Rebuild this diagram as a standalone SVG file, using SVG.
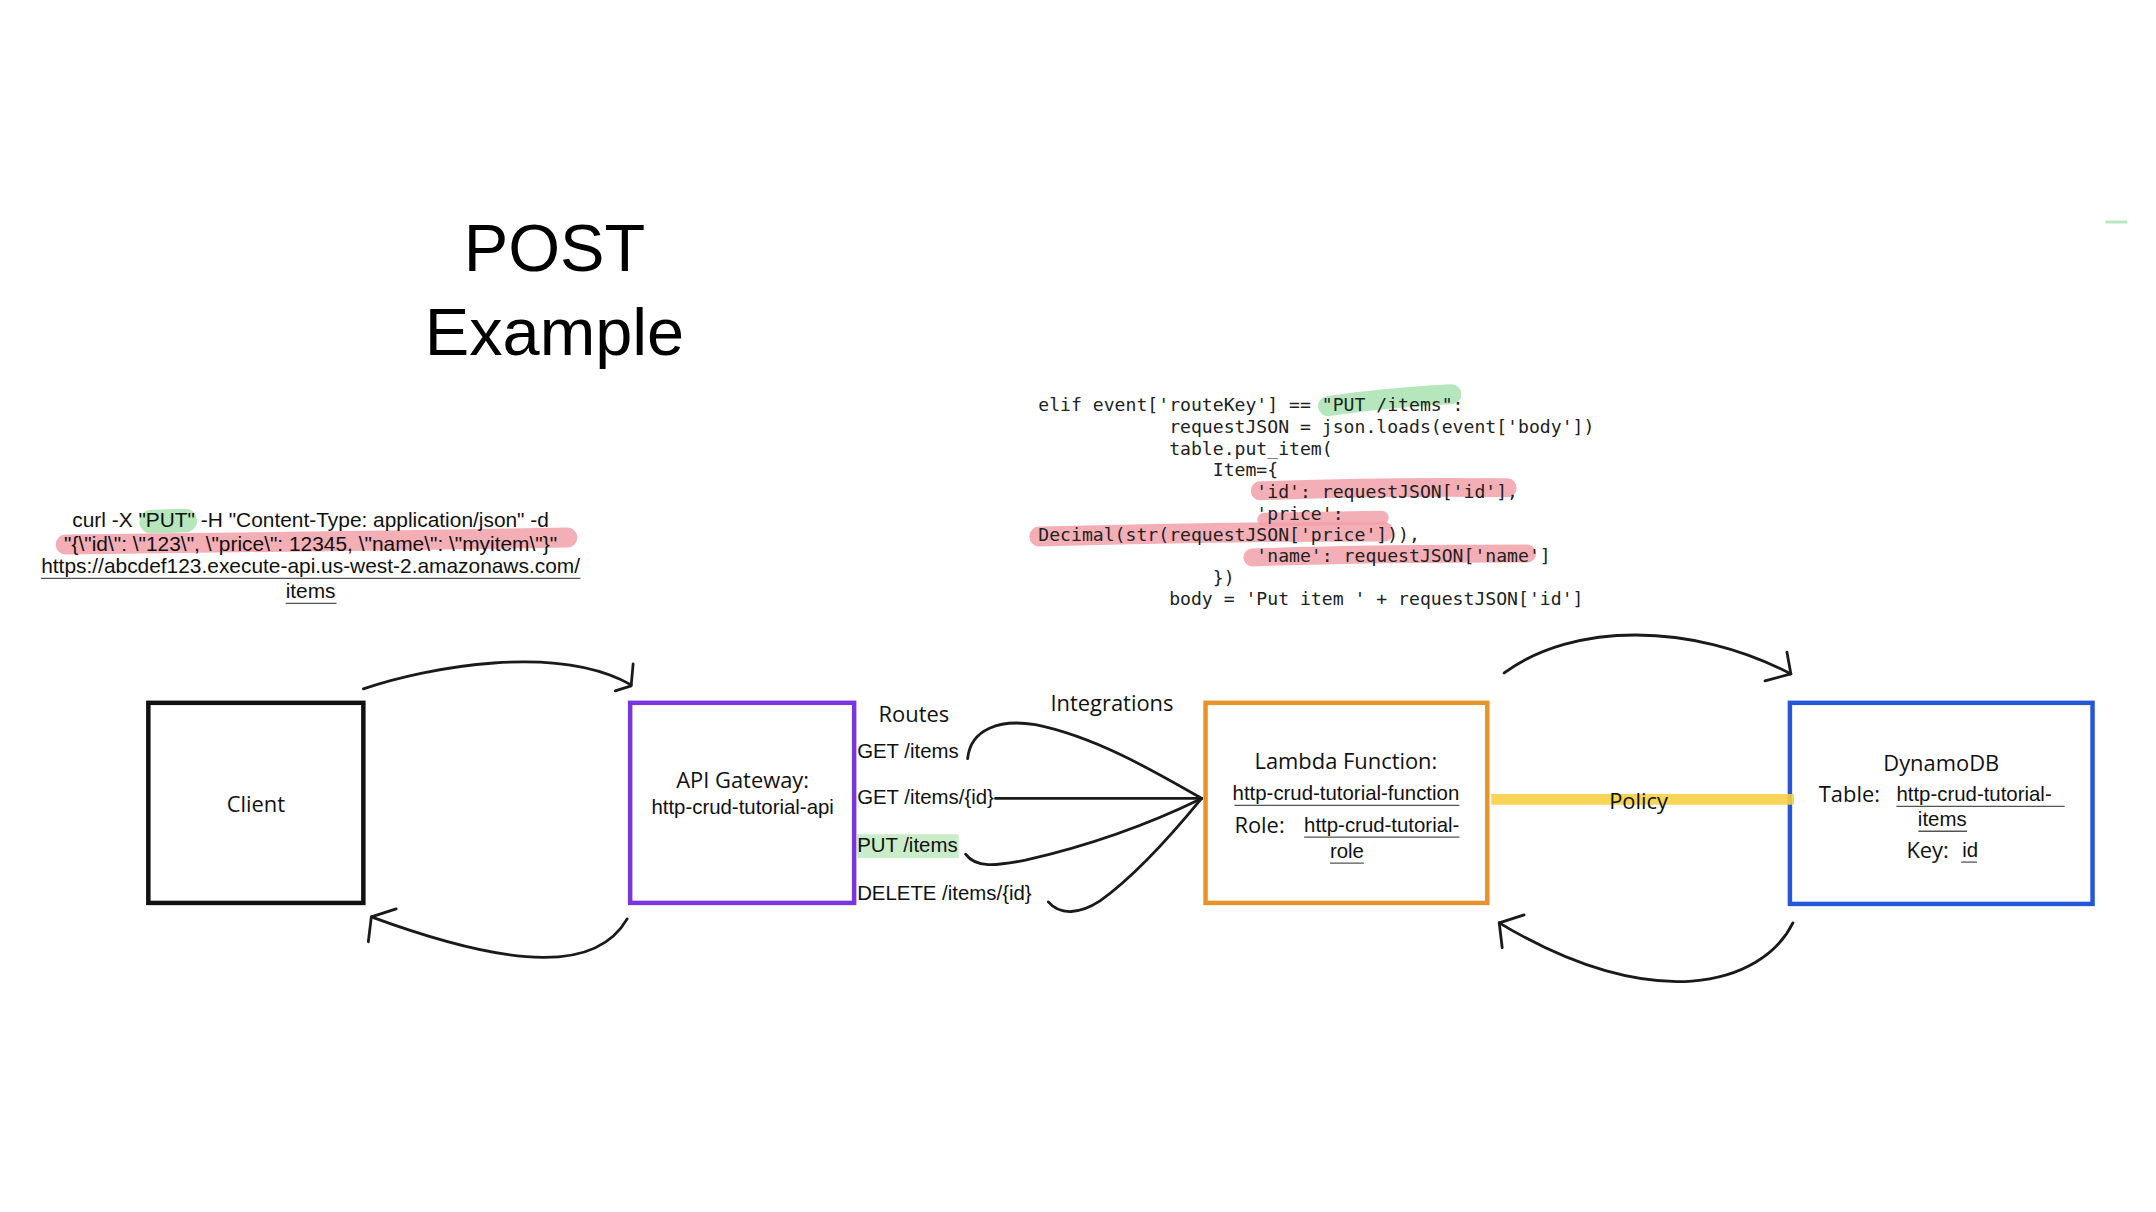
<svg xmlns="http://www.w3.org/2000/svg" width="2156" height="1212" viewBox="0 0 2156 1212">
<style>
.hand{font-family:"Open Sans","DejaVu Sans",sans-serif;font-size:22px;fill:#111}
.sans{font-family:"Liberation Sans",Arial,sans-serif;font-size:20.5px;fill:#111}
.curl{font-family:"Liberation Sans",Arial,sans-serif;font-size:21px;fill:#111}
.mono{font-family:"DejaVu Sans Mono","Liberation Mono",monospace;font-size:18.2px;fill:#222;white-space:pre}
.title{font-family:"Liberation Sans",Arial,sans-serif;font-size:67px;fill:#000}
.ul{stroke:#555;stroke-width:1.3}
.conn{fill:none;stroke:#1a1a1a;stroke-width:2.8;stroke-linecap:round;stroke-linejoin:round}
.hlg{fill:none;stroke:#a9e2b0;stroke-linecap:round;opacity:0.85}
.hlr{fill:none;stroke:#f2a0a8;stroke-linecap:round;opacity:0.85}
</style>
<rect width="2156" height="1212" fill="#fff"/>
<g transform="scale(0.9955)">

<g id="title">
<text class="title" x="557" y="272" text-anchor="middle">POST</text>
<text class="title" x="557" y="357" text-anchor="middle">Example</text>
</g>

<g id="curl">
<path class="hlg" d="M152,524 L186,523" stroke-width="24"/>
<path class="hlr" d="M66,547 C200,546 400,543 570,540" stroke-width="20"/>
<text class="curl" x="312" y="529" text-anchor="middle">curl -X "PUT" -H "Content-Type: application/json" -d</text>
<text class="curl" x="312" y="553" text-anchor="middle">"{\"id\": \"123\", \"price\": 12345, \"name\": \"myitem\"}"</text>
<text class="curl" x="312" y="576" text-anchor="middle">https://abcdef123.execute-api.us-west-2.amazonaws.com/</text>
<line class="ul" x1="41" y1="581" x2="583" y2="581"/>
<text class="curl" x="312" y="601" text-anchor="middle">items</text>
<line class="ul" x1="287" y1="606" x2="338" y2="606"/>
</g>

<g id="code">
<path class="hlg" d="M1334,408 C1372,402 1422,398 1458,396" stroke-width="20"/>
<path class="hlr" d="M1266,493 C1352,490 1442,489 1514,490" stroke-width="19"/>
<path class="hlr" d="M1270,522 L1388,520" stroke-width="14"/>
<path class="hlr" d="M1044,539 C1150,536 1280,534 1390,534" stroke-width="20"/>
<path class="hlr" d="M1258,560 C1342,557 1442,556 1534,556" stroke-width="18"/>
<text class="mono" x="1043" y="413">elif event['routeKey'] == "PUT /items":</text>
<text class="mono" x="1043" y="435">            requestJSON = json.loads(event['body'])</text>
<text class="mono" x="1043" y="457">            table.put_item(</text>
<text class="mono" x="1043" y="478">                Item={</text>
<text class="mono" x="1043" y="500">                    'id': requestJSON['id'],</text>
<text class="mono" x="1043" y="522">                    'price':</text>
<text class="mono" x="1043" y="543">Decimal(str(requestJSON['price'])),</text>
<text class="mono" x="1043" y="565">                    'name': requestJSON['name']</text>
<text class="mono" x="1043" y="587">                })</text>
<text class="mono" x="1043" y="608">            body = 'Put item ' + requestJSON['id']</text>
</g>

<g id="client">
<rect x="149" y="706" width="216" height="201" fill="none" stroke="#111" stroke-width="4.5"/>
<text class="hand" x="257" y="816" text-anchor="middle">Client</text>
</g>

<g id="api-gateway">
<rect x="633" y="706" width="225" height="201" fill="none" stroke="#7a35e0" stroke-width="4.5"/>
<text class="hand" x="746" y="792" text-anchor="middle">API Gateway:</text>
<text class="sans" x="746" y="818" text-anchor="middle">http-crud-tutorial-api</text>
</g>

<g id="routes">
<text class="hand" x="918" y="725" text-anchor="middle">Routes</text>
<text class="sans" x="861" y="761">GET /items</text>
<text class="sans" x="861" y="808">GET /items/{id}</text>
<rect x="861" y="838" width="102" height="24" fill="#c9ecc9"/>
<text class="sans" x="861" y="856" fill="#1d3d1d">PUT /items</text>
<text class="sans" x="861" y="904">DELETE /items/{id}</text>
</g>

<g id="integrations-label">
<text class="hand" x="1117" y="714" text-anchor="middle">Integrations</text>
</g>

<g id="lambda">
<rect x="1211" y="706" width="283" height="201" fill="none" stroke="#e8922a" stroke-width="4.5"/>
<text class="hand" x="1352" y="772" text-anchor="middle">Lambda Function:</text>
<text class="sans" x="1352" y="804" text-anchor="middle">http-crud-tutorial-function</text>
<line class="ul" x1="1240" y1="809" x2="1466" y2="809"/>
<text class="hand" x="1240" y="837">Role:</text>
<text class="sans" x="1310" y="836">http-crud-tutorial-</text>
<line class="ul" x1="1310" y1="841" x2="1466" y2="841"/>
<text class="sans" x="1353" y="862" text-anchor="middle">role</text>
<line class="ul" x1="1336" y1="867" x2="1370" y2="867"/>
</g>

<g id="dynamodb">
<rect x="1798" y="706" width="304" height="202" fill="none" stroke="#2456d8" stroke-width="4.5"/>
<text class="hand" x="1950" y="774" text-anchor="middle">DynamoDB</text>
<text class="hand" x="1827" y="806">Table:</text>
<text class="sans" x="1905" y="805">http-crud-tutorial-</text>
<line class="ul" x1="1905" y1="810" x2="2074" y2="810"/>
<text class="sans" x="1951" y="830" text-anchor="middle">items</text>
<line class="ul" x1="1927" y1="835" x2="1976" y2="835"/>
<text class="hand" x="1915" y="862">Key:</text>
<text class="sans" x="1971" y="861">id</text>
<line class="ul" x1="1970" y1="866" x2="1986" y2="866"/>
</g>

<g id="connectors">
<path d="M1498,803 L1802,803" stroke="#f7cf45" stroke-width="11" opacity="0.9" fill="none"/>
<text class="hand" x="1646" y="813" text-anchor="middle">Policy</text>

<path class="conn" d="M365,692 C430,670 560,646 634,688"/>
<path class="conn" d="M636,667 L634,689 L618,694"/>

<path class="conn" d="M630,923 C600,975 520,975 373,921"/>
<path class="conn" d="M398,913 L373,921 L370,946"/>

<path class="conn" d="M1511,676 C1580,625 1700,625 1799,677"/>
<path class="conn" d="M1795,655 L1799,677 L1773,684"/>

<path class="conn" d="M1801,927 C1770,990 1660,1020 1506,927"/>
<path class="conn" d="M1531,919 L1506,927 L1509,952"/>

<path class="conn" d="M972,762 C975,732 1005,722 1040,728 C1100,740 1160,775 1207,802"/>
<path class="conn" d="M1000,802 L1207,802"/>
<path class="conn" d="M970,858 C980,872 1000,870 1030,864 C1100,848 1160,825 1207,802"/>
<path class="conn" d="M1053,906 C1065,920 1085,918 1105,905 C1140,880 1180,835 1207,802"/>
</g>

<line x1="2115" y1="223" x2="2137" y2="223" stroke="#b9e8c0" stroke-width="3"/>
</g>
</svg>
